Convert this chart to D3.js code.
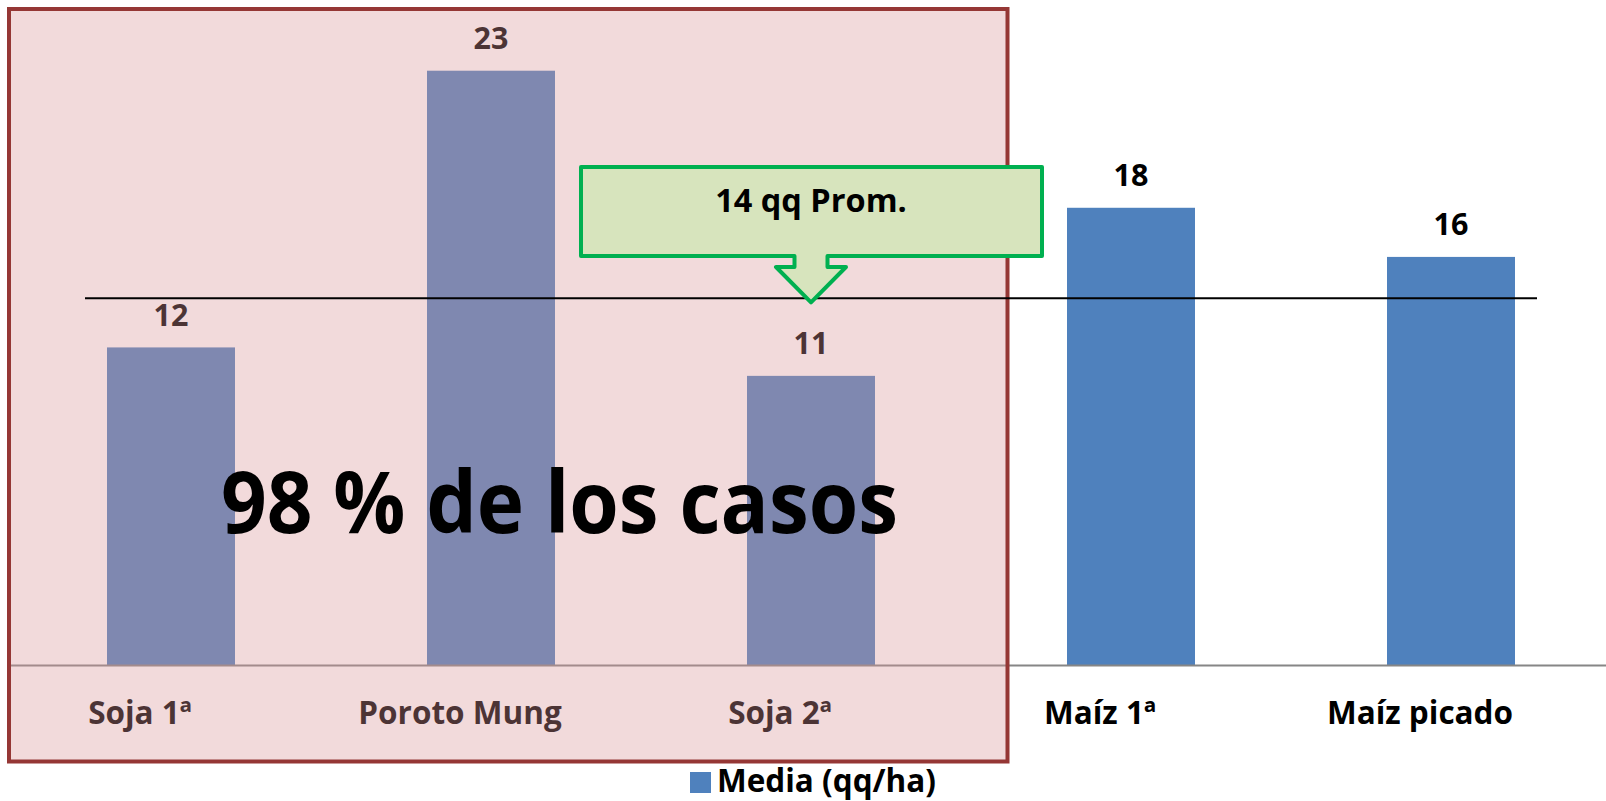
<!DOCTYPE html>
<html>
<head>
<meta charset="utf-8">
<script src="https://cdn.jsdelivr.net/npm/d3@7"></script>
<style>
  html, body { margin: 0; padding: 0; background: #ffffff; }
  svg { display: block; }
  text { font-family: "Open Sans", Lato, sans-serif; font-weight: 700; }
</style>
</head>
<body>
<svg id="chart" width="1606" height="801"></svg>
<script>
// ---- data ----
const categories = ["Soja 1ª", "Poroto Mung", "Soja 2ª", "Maíz 1ª", "Maíz picado"];
const mediaValues = [12.3, 23.0, 11.2, 17.7, 15.8];
const seriesName = "Media (qq/ha)";
const averageValue = 14.2;
const averageLabel = "14 qq Prom.";
const highlightCategories = ["Soja 1ª", "Poroto Mung", "Soja 2ª"];
const highlightLabel = "98 % de los casos";

// ---- layout ----
const W = 1606, H = 801;
const svg = d3.select("#chart");

const x = d3.scaleBand().domain(categories).range([11, 1611])
  .paddingInner(0.6).paddingOuter(0.3);
const y = d3.scaleLinear().domain([0, 25]).range([665.5, 19]);

const data = categories.map((c, i) => ({ cat: c, v: mediaValues[i] }));

// bars
svg.append("g").selectAll("rect").data(data).join("rect")
  .attr("x", d => x(d.cat))
  .attr("width", x.bandwidth())
  .attr("y", d => y(d.v))
  .attr("height", d => y(0) - y(d.v))
  .attr("fill", "#4f81bd");

// category axis
const axis = svg.append("g").attr("transform", `translate(0,${y(0)})`)
  .call(d3.axisBottom(x).tickSize(0).tickPadding(0));
axis.select(".domain").remove();
axis.append("line").attr("x1", 9).attr("x2", W).attr("y1", 0).attr("y2", 0)
  .attr("stroke", "#868686").attr("stroke-width", 2);
axis.selectAll(".tick text")
  .attr("y", 58.5).attr("dy", 0).attr("dx", -31)
  .attr("fill", "#000").attr("font-size", 31.5)
  .style("font-family", "'Open Sans', sans-serif").style("font-weight", 700);

// value labels
svg.append("g").selectAll("text").data(data).join("text")
  .attr("x", d => x(d.cat) + x.bandwidth() / 2)
  .attr("y", d => y(d.v) - 21.5)
  .attr("text-anchor", "middle")
  .attr("font-size", 30.5)
  .attr("fill", "#000")
  .text(d => d3.format(".0f")(d.v));

// legend
const lg = svg.append("g").attr("transform", "translate(690,772)");
lg.append("rect").attr("width", 21).attr("height", 21).attr("fill", "#4f81bd");
lg.append("text").attr("x", 27).attr("y", 19.5).attr("font-size", 31.5).attr("fill", "#000").text(seriesName);

// highlight overlay box
svg.append("rect")
  .attr("x", 9).attr("y", 9).attr("width", 1007.5 - 9).attr("height", 761.5 - 9)
  .attr("fill", "#da9597").attr("fill-opacity", 0.35)
  .attr("stroke", "#953735").attr("stroke-width", 4);

// average line
svg.append("line")
  .attr("x1", 85).attr("x2", 1537)
  .attr("y1", y(averageValue)).attr("y2", y(averageValue))
  .attr("stroke", "#000").attr("stroke-width", 2);

// big text
svg.append("text")
  .attr("x", 221).attr("y", 533)
  .attr("font-size", 86)
  .attr("textLength", 677).attr("lengthAdjust", "spacingAndGlyphs")
  .attr("fill", "#000")
  .text(highlightLabel);

// callout arrow pointing at average line
const tipX = x("Soja 2ª") + x.bandwidth() / 2;
const tipY = y(averageValue) + 4;
const rx0 = 581, rx1 = 1042, ry0 = 167, ry1 = 256;
const sh0 = tipX - 16.5, sh1 = tipX + 16.5, shB = 267, hw = 35;
const calloutPath = d3.path();
calloutPath.moveTo(rx0, ry0);
calloutPath.lineTo(rx1, ry0);
calloutPath.lineTo(rx1, ry1);
calloutPath.lineTo(sh1, ry1);
calloutPath.lineTo(sh1, shB);
calloutPath.lineTo(tipX + hw, shB);
calloutPath.lineTo(tipX, tipY);
calloutPath.lineTo(tipX - hw, shB);
calloutPath.lineTo(sh0, shB);
calloutPath.lineTo(sh0, ry1);
calloutPath.lineTo(rx0, ry1);
calloutPath.closePath();
svg.append("path").attr("d", calloutPath.toString())
  .attr("fill", "#d7e4bd").attr("stroke", "#00b050").attr("stroke-width", 4)
  .attr("stroke-linejoin", "round");
svg.append("text")
  .attr("x", tipX).attr("y", 212)
  .attr("text-anchor", "middle").attr("font-size", 32.5).attr("fill", "#000")
  .text(averageLabel);
</script>
</body>
</html>
